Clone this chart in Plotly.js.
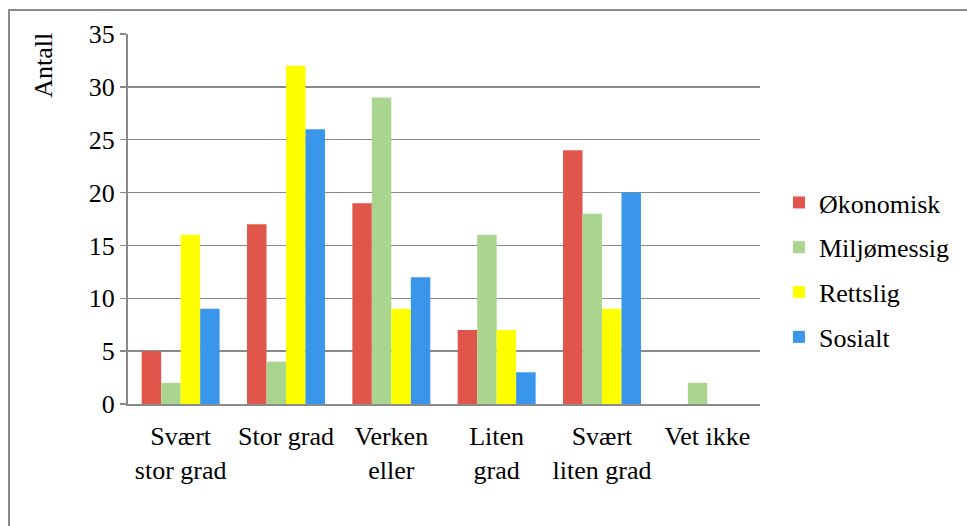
<!DOCTYPE html>
<html>
<head>
<meta charset="utf-8">
<script src="https://cdn.plot.ly/plotly-3.0.1.min.js"></script>
<style>
  html, body { margin: 0; padding: 0; background: #fff; }
  #wrap { position: relative; width: 967px; height: 526px; overflow: hidden; }
  #chart { width: 967px; height: 526px; }
  #frame { position: absolute; left: 8px; top: 9px; width: 1000px; height: 600px;
           border: 2px solid #8a8a8a; pointer-events: none; box-sizing: border-box; }
</style>
</head>
<body>
<div id="wrap">
  <div id="chart"></div>
  <div id="frame"></div>
</div>
<script>
const categories = ["Svært<br>stor grad", "Stor grad", "Verken<br>eller", "Liten<br>grad", "Svært<br>liten grad", "Vet ikke"];
const seriesNames = ["Økonomisk", "Miljømessig", "Rettslig", "Sosialt"];
const okonomisk  = [5, 17, 19, 7, 24, 0];
const miljomessig = [2, 4, 29, 16, 18, 2];
const rettslig   = [16, 32, 9, 7, 9, 0];
const sosialt    = [9, 26, 12, 3, 20, 0];
const yTicks = [0, 5, 10, 15, 20, 25, 30, 35];

const colors = ["#E0564B", "#A9D58E", "#FFFF00", "#3A96EA"];
const values = [okonomisk, miljomessig, rettslig, sosialt];

const font = "Liberation Serif, Times New Roman, serif";
const fs = 26;

const traces = seriesNames.map((name, i) => ({
  type: "bar",
  name: name,
  legendgroup: "g" + i,
  x: categories,
  y: values[i],
  marker: { color: colors[i], line: { width: 0 } },
  hoverinfo: "skip"
}));

const layout = {
  width: 967, height: 526,
  margin: { l: 128, r: 205, t: 34, b: 121.5, pad: 0 },
  paper_bgcolor: "#ffffff",
  plot_bgcolor: "#ffffff",
  barmode: "group",
  bargap: 0.26,
  bargroupgap: 0,
  font: { family: font, size: fs, color: "#000" },
  showlegend: true,
  legend: {
    x: 1.03, xanchor: "left", xref: "paper",
    y: 0.362, yanchor: "middle",
    font: { family: font, size: fs, color: "#000" },
    bgcolor: "rgba(0,0,0,0)",
    traceorder: "grouped",
    tracegroupgap: 8,
    itemwidth: 30
  },
  xaxis: {
    type: "category",
    showgrid: false,
    showline: true, linecolor: "#8a8a8a", linewidth: 2,
    ticks: "", ticklabelstandoff: 8,
    tickfont: { family: font, size: fs, color: "#000" },
    fixedrange: true
  },
  yaxis: {
    range: [0, 35],
    tickvals: yTicks,
    ticktext: yTicks.map(String),
    showgrid: true, gridcolor: "#8a8a8a", gridwidth: 1.5,
    showline: true, linecolor: "#8a8a8a", linewidth: 2,
    ticks: "outside", ticklen: 6, tickcolor: "#8a8a8a", tickwidth: 1.5,
    zeroline: false,
    tickfont: { family: font, size: fs, color: "#000" },
    fixedrange: true
  },
  annotations: [{
    text: "Antall", xref: "paper", yref: "paper",
    x: -0.134, y: 0.915, xanchor: "center", yanchor: "middle",
    textangle: -90, showarrow: false,
    font: { family: font, size: fs, color: "#000" }
  }]
};

Plotly.newPlot("chart", traces, layout, { displayModeBar: false, staticPlot: true });
</script>
</body>
</html>
